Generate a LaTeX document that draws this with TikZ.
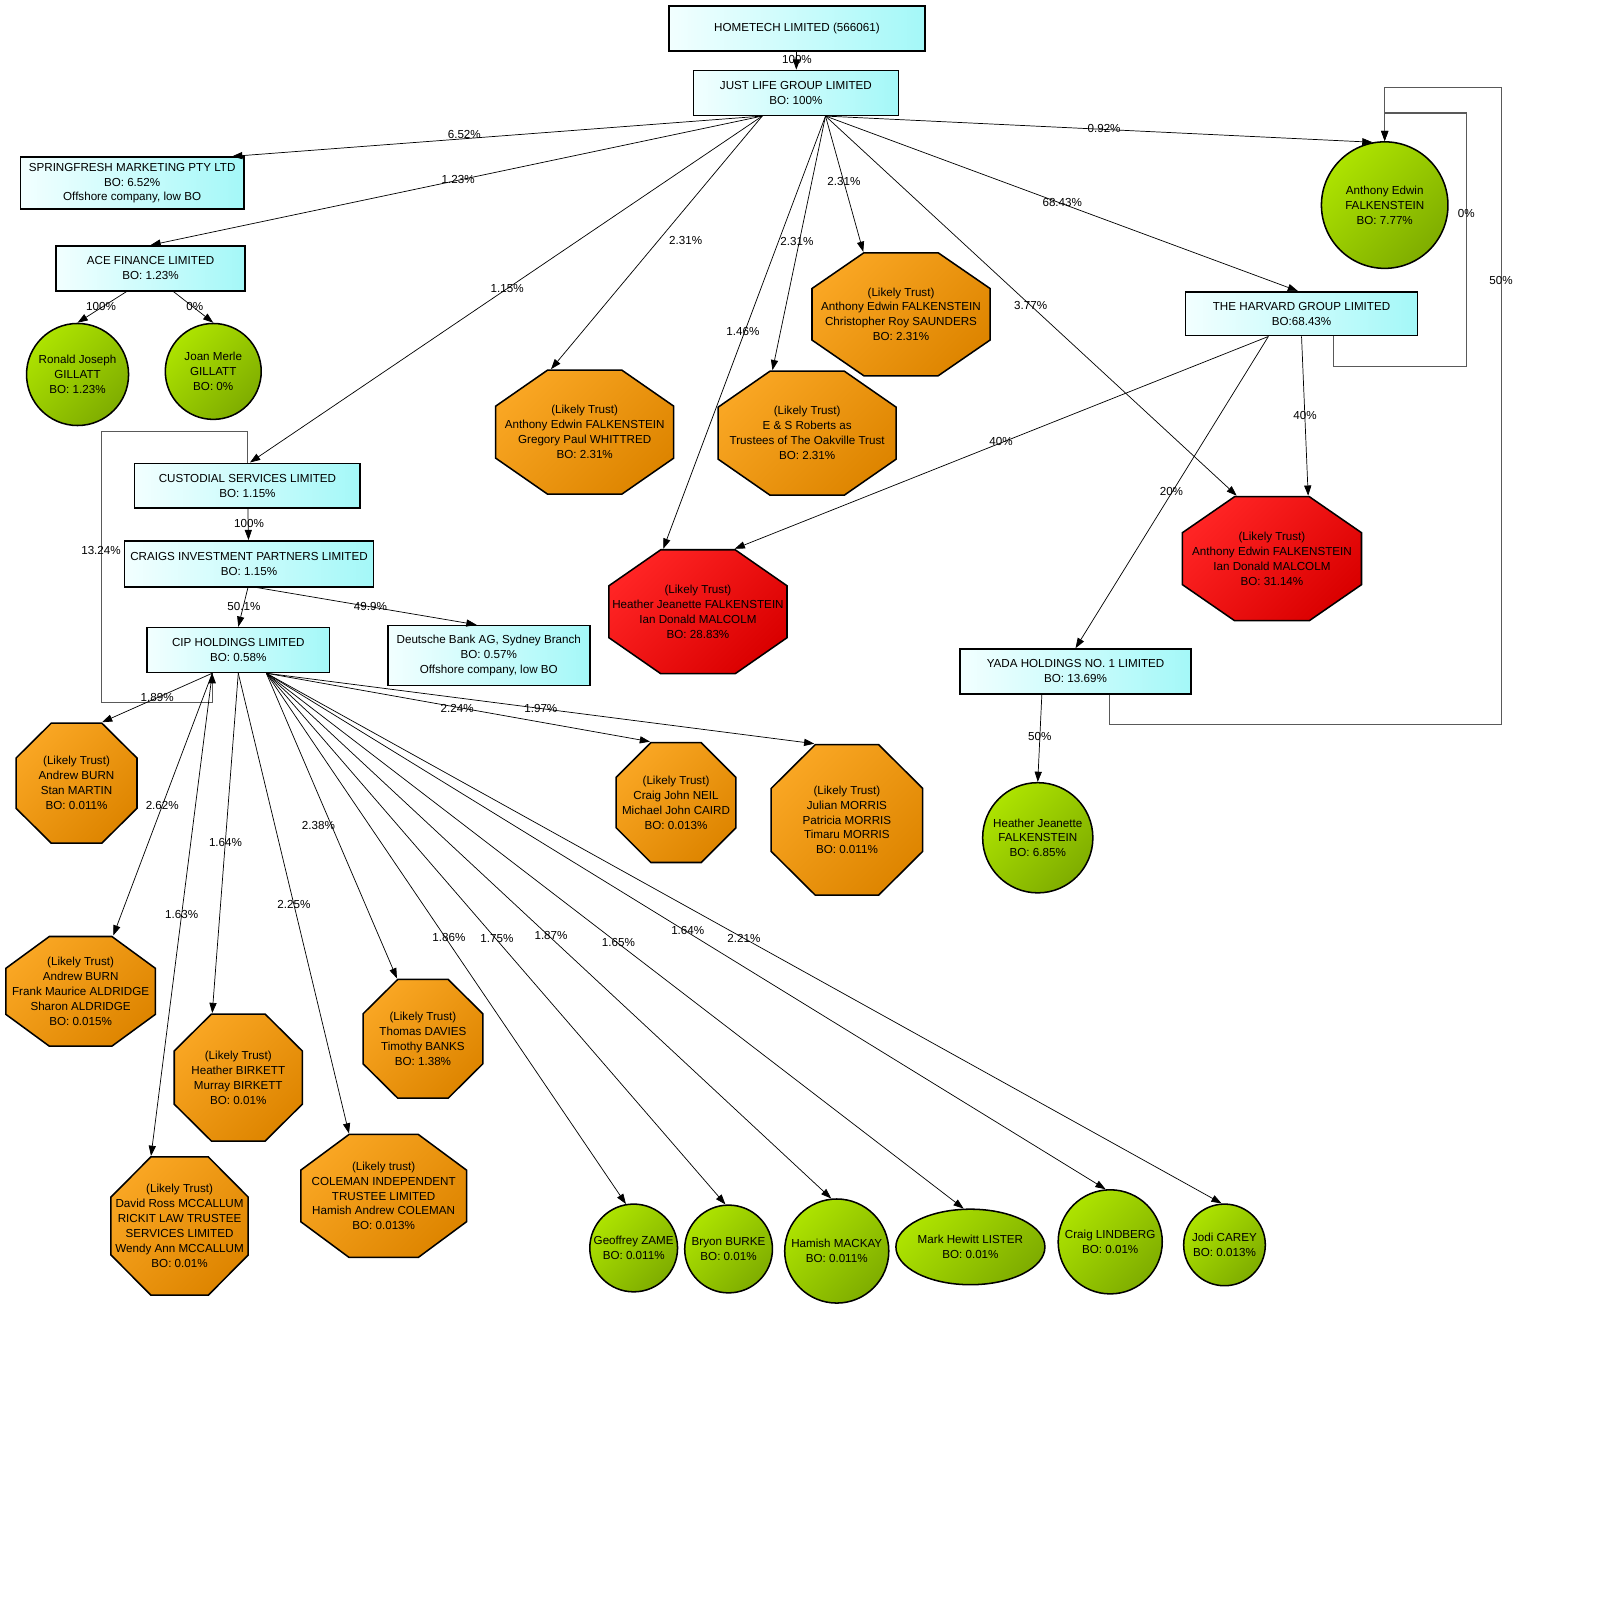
\documentclass[tikz,border=0pt]{standalone}
\usepackage{fontspec}
\setmainfont{Liberation Sans}
\usetikzlibrary{arrows.meta,shapes.geometric,calc}
\definecolor{cyA}{HTML}{F2FFFF}
\definecolor{cyB}{HTML}{A4F8F8}
\definecolor{grA}{HTML}{ADE300}
\definecolor{grB}{HTML}{7FAD00}
\definecolor{orA}{HTML}{F9A623}
\definecolor{orB}{HTML}{DE8500}
\definecolor{rdA}{HTML}{FF2424}
\definecolor{rdB}{HTML}{DA0000}
\tikzset{
  box/.style={rectangle, draw=black, line width=1.5pt, inner sep=1pt, align=center,
    left color=cyA, right color=cyB},
  person/.style={circle, draw=black, line width=1.5pt, inner sep=0pt, align=center,
    top color=grA, bottom color=grB, shading angle=45},
  octa/.style 2 args={rectangle, inner sep=0pt, align=center,
    path picture={
      \path[draw=black, line width=1.5pt, top color=#1, bottom color=#2, shading angle=45]
        let \p1=(path picture bounding box.south west),
            \p2=(path picture bounding box.north east) in
        ({\x1+.293*(\x2-\x1)},{\y2-.75pt}) -- ({\x1+.707*(\x2-\x1)},{\y2-.75pt})
        -- ({\x2-.75pt},{\y1+.707*(\y2-\y1)}) -- ({\x2-.75pt},{\y1+.293*(\y2-\y1)})
        -- ({\x1+.707*(\x2-\x1)},{\y1+.75pt}) -- ({\x1+.293*(\x2-\x1)},{\y1+.75pt})
        -- ({\x1+.75pt},{\y1+.293*(\y2-\y1)}) -- ({\x1+.75pt},{\y1+.707*(\y2-\y1)}) -- cycle;
    }},
  trust/.style={octa={orA}{orB}},
  bigtrust/.style={octa={rdA}{rdB}},
  conn/.style={draw=black, line width=0.7pt, -{Triangle[length=10pt,width=7pt]}},
  backconn/.style={draw=black!65, line width=1pt, -{Triangle[length=10pt,width=7pt,color=black]}},
  lbl/.style={inner sep=1pt},
}
\begin{document}
\begin{tikzpicture}[x=1pt, y=-1pt, every node/.style={font=\fontsize{11.4}{14.6}\selectfont}]
\useasboundingbox (0,0) rectangle (1568,1568);
\fill[white] (0,0) rectangle (1568,1568);
% companies
\node[box, minimum width=251, minimum height=44] (ht) at (781,28) {HOMETECH LIMITED (566061)};
\node[box, minimum width=201, minimum height=44] (jl) at (780,91) {JUST LIFE GROUP LIMITED\\BO: 100\%};
\node[box, minimum width=219, minimum height=51] (spring) at (129.5,179.5) {SPRINGFRESH MARKETING PTY LTD\\BO: 6.52\%\\Offshore company, low BO};
\node[box, minimum width=185, minimum height=44] (ace) at (147.5,263) {ACE FINANCE LIMITED\\BO: 1.23\%};
\node[box, minimum width=221, minimum height=44] (cust) at (242.5,476) {CUSTODIAL SERVICES LIMITED\\BO: 1.15\%};
\node[box, minimum width=244, minimum height=45] (craigs) at (244,552.5) {CRAIGS INVESTMENT PARTNERS LIMITED\\BO: 1.15\%};
\node[box, minimum width=179, minimum height=44] (cip) at (233.5,637) {CIP HOLDINGS LIMITED\\BO: 0.58\%};
\node[box, minimum width=198, minimum height=59] (db) at (479,642.5) {Deutsche Bank AG, Sydney Branch\\BO: 0.57\%\\Offshore company, low BO};
\node[box, minimum width=227, minimum height=43] (harv) at (1275.5,307.5) {THE HARVARD GROUP LIMITED\\BO:68.43\%};
\node[box, minimum width=226, minimum height=44] (yada) at (1054,658) {YADA HOLDINGS NO. 1 LIMITED\\BO: 13.69\%};
% people
\node[person, minimum size=100] (ron) at (76,367) {Ronald Joseph\\GILLATT\\BO: 1.23\%};
\node[person, minimum size=94] (joan) at (209,364) {Joan Merle\\GILLATT\\BO: 0\%};
\node[person, minimum size=124] (afalk) at (1357,201) {Anthony Edwin\\FALKENSTEIN\\BO: 7.77\%};
\node[person, minimum size=108] (hfalk) at (1017,821) {Heather Jeanette\\FALKENSTEIN\\BO: 6.85\%};
\node[person, minimum size=86] (zame) at (621,1223) {Geoffrey ZAME\\BO: 0.011\%};
\node[person, minimum size=86] (burke) at (714,1224) {Bryon BURKE\\BO: 0.01\%};
\node[person, minimum size=102] (mackay) at (820,1226) {Hamish MACKAY\\BO: 0.011\%};
\node[person, ellipse, minimum width=136, minimum height=74] (lister) at (951,1222) {Mark Hewitt LISTER\\BO: 0.01\%};
\node[person, minimum size=102] (lindberg) at (1088,1217) {Craig LINDBERG\\BO: 0.01\%};
\node[person, minimum size=80] (carey) at (1200,1220) {Jodi CAREY\\BO: 0.013\%};
% trusts
\node[trust, minimum width=176, minimum height=122] (saun) at (883,308) {(Likely Trust)\\Anthony Edwin FALKENSTEIN\\Christopher Roy SAUNDERS\\BO: 2.31\%};
\node[trust, minimum width=176, minimum height=123] (whit) at (573,423.5) {(Likely Trust)\\Anthony Edwin FALKENSTEIN\\Gregory Paul WHITTRED\\BO: 2.31\%};
\node[trust, minimum width=176, minimum height=123] (oak) at (791,424.5) {(Likely Trust)\\E \& S Roberts as\\Trustees of The Oakville Trust\\BO: 2.31\%};
\node[bigtrust, minimum width=176, minimum height=123] (hjim) at (684,599.5) {(Likely Trust)\\Heather Jeanette FALKENSTEIN\\Ian Donald MALCOLM\\BO: 28.83\%};
\node[bigtrust, minimum width=177, minimum height=123] (aeim) at (1246.5,547.5) {(Likely Trust)\\Anthony Edwin FALKENSTEIN\\Ian Donald MALCOLM\\BO: 31.14\%};
\node[trust, minimum width=120, minimum height=119] (bm) at (75,767.5) {(Likely Trust)\\Andrew BURN\\Stan MARTIN\\BO: 0.011\%};
\node[trust, minimum width=119, minimum height=119] (neil) at (662.5,786.5) {(Likely Trust)\\Craig John NEIL\\Michael John CAIRD\\BO: 0.013\%};
\node[trust, minimum width=150, minimum height=149] (morris) at (830,803.5) {(Likely Trust)\\Julian MORRIS\\Patricia MORRIS\\Timaru MORRIS\\BO: 0.011\%};
\node[trust, minimum width=148, minimum height=109] (ald) at (79,971.5) {(Likely Trust)\\Andrew BURN\\Frank Maurice ALDRIDGE\\Sharon ALDRIDGE\\BO: 0.015\%};
\node[trust, minimum width=127, minimum height=126] (birk) at (233.5,1056) {(Likely Trust)\\Heather BIRKETT\\Murray BIRKETT\\BO: 0.01\%};
\node[trust, minimum width=119, minimum height=118] (dav) at (414.5,1018) {(Likely Trust)\\Thomas DAVIES\\Timothy BANKS\\BO: 1.38\%};
\node[trust, minimum width=136, minimum height=137] (mcc) at (176,1201.5) {(Likely Trust)\\David Ross MCCALLUM\\RICKIT LAW TRUSTEE\\SERVICES LIMITED\\Wendy Ann MCCALLUM\\BO: 0.01\%};
\node[trust, minimum width=164, minimum height=122] (cole) at (376,1172) {(Likely trust)\\COLEMAN INDEPENDENT\\TRUSTEE LIMITED\\Hamish Andrew COLEMAN\\BO: 0.013\%};
% holdings from the top
\draw[conn] (ht) -- (jl);
\draw[conn] ([xshift=-33]jl.south) -- ([xshift=98]spring.north);
\draw[conn] ([xshift=-33]jl.south) -- (ace.north);
\draw[conn] ([xshift=-33]jl.south) -- ([xshift=2.5]cust.north);
\draw[conn] ([xshift=-33]jl.south) -- ([xshift=-33]whit.north);
\draw[conn] ([xshift=29]jl.south) -- ([xshift=-34]hjim.north);
\draw[conn] ([xshift=29]jl.south) -- ([xshift=-34]oak.north);
\draw[conn] ([xshift=29]jl.south) -- ([xshift=-37]saun.north);
\draw[conn] ([xshift=29]jl.south) -- ([xshift=-34.5]aeim.north);
\draw[conn] ([xshift=29]jl.south) -- ([xshift=-3.5]harv.north);
\draw[conn] ([xshift=29]jl.south) -- (afalk.101);
% harvard and yada
\draw[conn] ([xshift=-32.5]harv.south) -- ([xshift=36]hjim.north);
\draw[conn] ([xshift=-32.5]harv.south) -- (yada.north);
\draw[conn] (harv.south) -- ([xshift=35.5]aeim.north);
\draw[backconn] ([xshift=31.5]harv.south) -- ++(0,29) -- ++(130,0) -- ++(0,-248) -| (afalk.north);
\draw[conn] ([xshift=-33]yada.south) -- (hfalk.north);
\draw[backconn] ([xshift=33]yada.south) -- ++(0,29) -- ++(384,0) -- ++(0,-624) -| (afalk.north);
% ace, custodial, craigs
\draw[conn] ([xshift=-23.5]ace.south) -- (ron.north);
\draw[conn] ([xshift=22.5]ace.south) -- (joan.north);
\draw[conn] (cust) -- (craigs);
\draw[conn] ([xshift=-1]craigs.south) -- (cip.north);
\draw[conn] ([xshift=7.5]craigs.south) -- ([xshift=-12]db.north);
\draw[backconn] (cust.north) -- ++(0,-30) -- ++(-143.5,0) |- ([xshift=-25.5,yshift=-29]cip.south) -- ([xshift=-25.5]cip.south);
% cip holders
\draw[conn] ([xshift=-25.5]cip.south) -- ([xshift=25]bm.north);
\draw[conn] ([xshift=-25.5]cip.south) -- ([xshift=32]ald.north);
\draw[conn] ([xshift=-25.5]cip.south) -- ([xshift=-28]mcc.north);
\draw[conn] (cip.south) -- ([xshift=-25.5]birk.north);
\draw[conn] (cip.south) -- ([xshift=-34]cole.north);
\draw[conn] ([xshift=27.5]cip.south) -- ([xshift=-25.5]dav.north);
\draw[conn] ([xshift=27.5]cip.south) -- ([xshift=-25.5]neil.north);
\draw[conn] ([xshift=27.5]cip.south) -- ([xshift=-32]morris.north);
\foreach \n/\a in {zame/100, burke/94, mackay/96, lister/100, lindberg/95, carey/94}
  \draw[conn] ([xshift=27.5]cip.south) -- (\n.\a);
% percentages
\foreach \x/\y/\t [count=\i] in {781/58/100, 455/132/6.52, 449/176/1.23, 497/283/1.15,
    672/236/2.31, 728/325/1.46, 781/237/2.31, 827/178/2.31, 1010/299/3.77, 1041/198/68.43,
    1082/126/0.92, 1437/209/0, 1471/275/50, 981/433/40, 1148/482/20, 1279/407/40,
    1019/722/50, 99/300/100, 191/300/0, 244/513/100, 239/594/50.1, 363/594/49.9,
    99/539/13.24, 154/684/1.89, 159/789/2.62, 178/896/1.63, 221/826/1.64, 288/886/2.25,
    312/809/2.38, 448/694/2.24, 530/694/1.97, 440/919/1.86, 487/920/1.75, 540/917/1.87,
    606/924/1.65, 674/912/1.64, 729/920/2.21}
  \node[lbl] (pct\i) at (\x,\y) {\t\%};
\end{tikzpicture}
\end{document}
